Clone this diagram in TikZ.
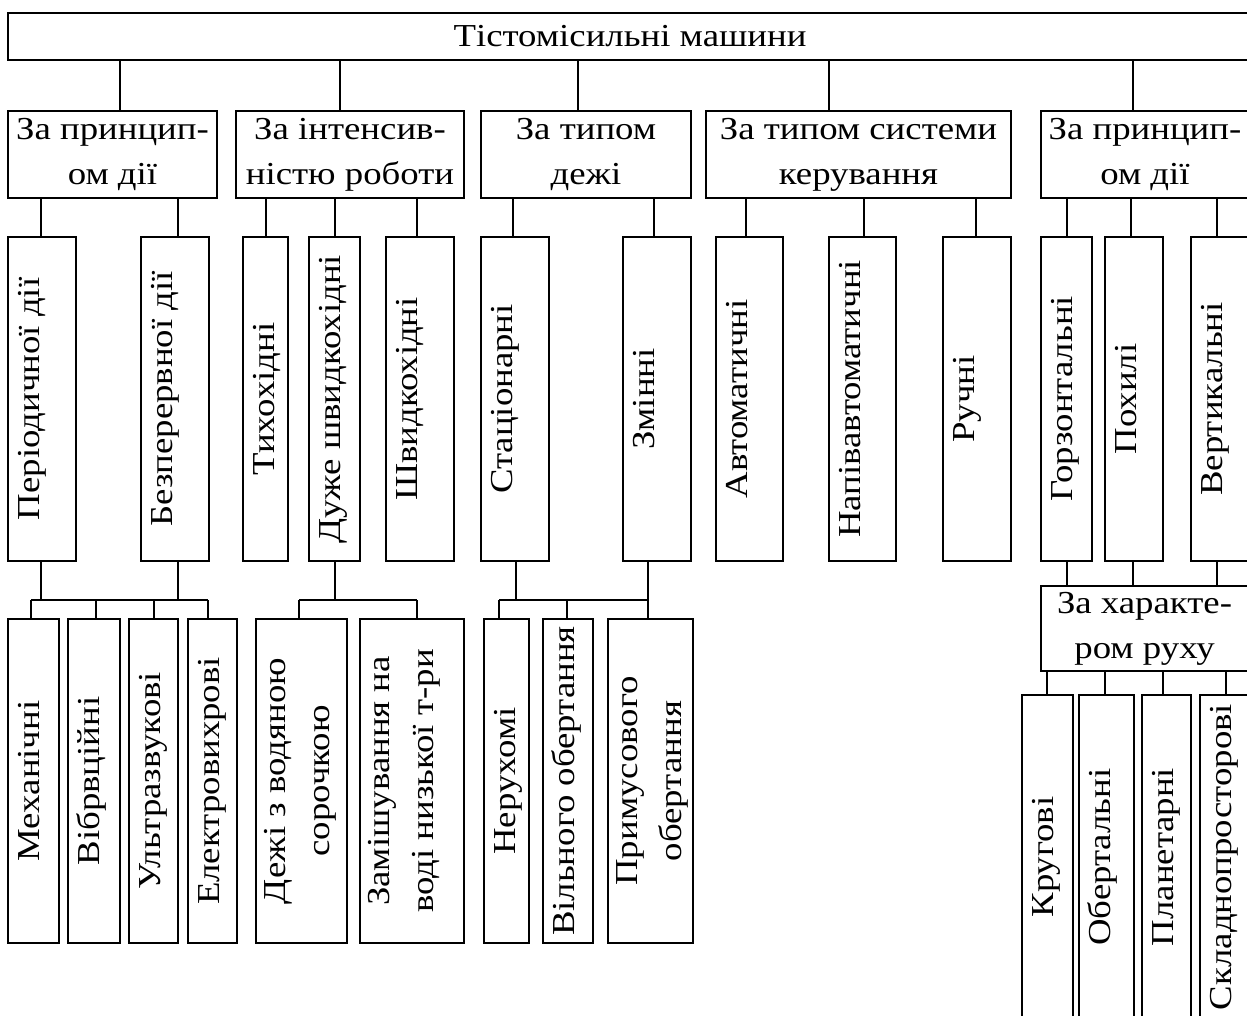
\documentclass[tikz,border=0pt]{standalone}
\usepackage{fontspec}
\setmainfont{Liberation Serif}[FakeStretch=1.15]
\usetikzlibrary{calc}
\tikzset{
  x=1pt, y=-1pt,
  bx/.style={draw, line width=1.4pt, inner sep=0pt, outer sep=0pt, anchor=north west},
  vt/.style={rotate=90, inner sep=0pt, font=\fontsize{32}{44}\selectfont, align=center},
  ht/.style={font=\fontsize{32}{45}\selectfont, align=center},
  ln/.style={line width=1.4pt},
}
\newcommand{\mkbox}[5]{\node[bx, minimum width={(#4)-(#2)}, minimum height={(#5)-(#3)}] (#1) at (#2,#3) {};}
\newcommand{\mkhbox}[6]{\node[bx, ht, minimum width={(#4)-(#2)}, minimum height={(#5)-(#3)}] (#1) at (#2,#3) {#6};}
\newcommand{\vone}[3]{\node[vt, anchor=base] (#1t) at ($(#1.west)+(#2,0)$) {#3};}
\newcommand{\vtwo}[3]{\node[vt, anchor=north] (#1t) at ($(#1.west)+(#2,0)$) {#3};}
\newcommand{\cn}[3]{\draw[ln] (#1,0 |- #2.south) -- (#1,0 |- #3.north);}
\begin{document}
\begin{tikzpicture}
\clip (0,0) rectangle (1247,1016);
\fill[white] (0,0) rectangle (1247,1016);
% level 1
\mkhbox{T}{8}{13}{1252}{60}{Тістомісильні машини}
% level 2
\mkhbox{A}{8}{111}{217}{198}{За принцип-\\ом дії}
\mkhbox{B}{236}{111}{464}{198}{За інтенсив-\\ністю роботи}
\mkhbox{C}{481}{111}{691}{198}{За типом\\дежі}
\mkhbox{D}{706}{111}{1011}{198}{За типом системи\\керування}
\mkhbox{E}{1041}{111}{1249}{198}{За принцип-\\ом дії}
\cn{120}{T}{A}\cn{340}{T}{B}\cn{578}{T}{C}\cn{829}{T}{D}\cn{1133}{T}{E}
% level 3
\mkbox{P1}{8}{237}{76}{561}\vone{P1}{31}{Періодичної дії}
\mkbox{P2}{141}{237}{209}{561}\vone{P2}{31}{Безперервної дії}
\mkbox{B1}{243}{237}{288}{561}\vone{B1}{31}{Тихохідні}
\mkbox{B2}{309}{237}{360}{561}\vone{B2}{31}{Дуже швидкохідні}
\mkbox{B3}{386}{237}{454}{561}\vone{B3}{31}{Швидкохідні}
\mkbox{C1}{481}{237}{549}{561}\vone{C1}{31}{Стаціонарні}
\mkbox{C2}{623}{237}{691}{561}\vone{C2}{31}{Змінні}
\mkbox{D1}{716}{237}{783}{561}\vone{D1}{31}{Автоматичні}
\mkbox{D2}{829}{237}{896}{561}\vone{D2}{31}{Напівавтоматичні}
\mkbox{D3}{943}{237}{1011}{561}\vone{D3}{31}{Ручні}
\mkbox{E1}{1041}{237}{1092}{561}\vone{E1}{31}{Горзонтальні}
\mkbox{E2}{1105}{237}{1163}{561}\vone{E2}{31}{Похилі}
\mkbox{E3}{1191}{237}{1252}{561}\vone{E3}{31}{Вертикальні}
\cn{41}{A}{P1}\cn{178}{A}{P2}
\cn{266}{B}{B1}\cn{335}{B}{B2}\cn{417}{B}{B3}
\cn{513}{C}{C1}\cn{654}{C}{C2}
\cn{746}{D}{D1}\cn{864}{D}{D2}\cn{976}{D}{D3}
\cn{1067}{E}{E1}\cn{1131}{E}{E2}\cn{1217}{E}{E3}
% level 4
\mkbox{Q1}{8}{619}{59}{943}\vone{Q1}{31}{Механічні}
\mkbox{Q2}{68}{619}{120}{943}\vone{Q2}{31}{Вібрвційні}
\mkbox{Q3}{129}{619}{178}{943}\vone{Q3}{31}{Ультразвукові}
\mkbox{Q4}{188}{619}{237}{943}\vone{Q4}{31}{Електровихрові}
\mkbox{R1}{256}{619}{347}{943}\vtwo{R1}{8}{Дежі з водяною\\сорочкою}
\mkbox{R2}{360}{619}{464}{943}\vtwo{R2}{8}{Замішування на\\воді низької т-ри}
\mkbox{S1}{484}{619}{529}{943}\vone{S1}{31}{Нерухомі}
\mkbox{S2}{543}{619}{593}{943}\vone{S2}{31}{Вільного обертання}
\mkbox{S3}{608}{619}{693}{943}\vtwo{S3}{8}{Примусового\\обертання}
\coordinate (bus) at (0,600);
\draw[ln] (41,0 |- P1.south) -- (41,0 |- bus);
\draw[ln] (178,0 |- P2.south) -- (178,0 |- bus);
\draw[ln] (31,0 |- bus) -- (208,0 |- bus);
\draw[ln] (31,0 |- bus) -- (31,0 |- Q1.north);
\draw[ln] (96,0 |- bus) -- (96,0 |- Q2.north);
\draw[ln] (154,0 |- bus) -- (154,0 |- Q3.north);
\draw[ln] (208,0 |- bus) -- (208,0 |- Q4.north);
\draw[ln] (335,0 |- B2.south) -- (335,0 |- bus);
\draw[ln] (299,0 |- bus) -- (417,0 |- bus);
\draw[ln] (299,0 |- bus) -- (299,0 |- R1.north);
\draw[ln] (417,0 |- bus) -- (417,0 |- R2.north);
\draw[ln] (516,0 |- C1.south) -- (516,0 |- bus);
\draw[ln] (648,0 |- C2.south) -- (648,0 |- S3.north);
\draw[ln] (499,0 |- bus) -- (648,0 |- bus);
\draw[ln] (499,0 |- bus) -- (499,0 |- S1.north);
\draw[ln] (567,0 |- bus) -- (567,0 |- S2.north);
% right branch
\mkhbox{F}{1041}{586}{1248}{671}{За характе-\\ром руху}
\cn{1067}{E1}{F}\cn{1133}{E2}{F}\cn{1217}{E3}{F}
\mkbox{G1}{1022}{695}{1073}{1019}\vone{G1}{31}{Кругові}
\mkbox{G2}{1079}{695}{1134}{1019}\vone{G2}{31}{Обертальні}
\mkbox{G3}{1142}{695}{1191}{1019}\vone{G3}{31}{Планетарні}
\mkbox{G4}{1200}{695}{1252}{1019}\vone{G4}{31}{Складнопросторові}
\cn{1047}{F}{G1}\cn{1105}{F}{G2}\cn{1163}{F}{G3}\cn{1226}{F}{G4}
\end{tikzpicture}
\end{document}
